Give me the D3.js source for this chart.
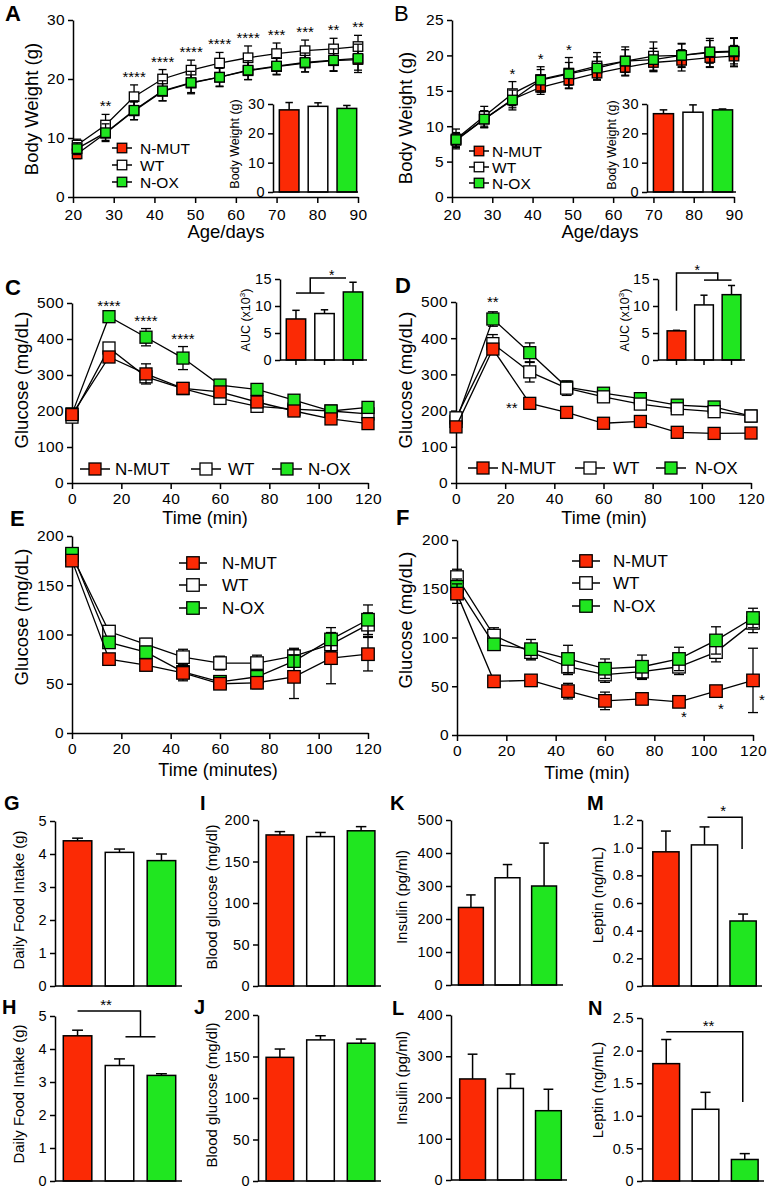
<!DOCTYPE html>
<html>
<head>
<meta charset="utf-8">
<script src="https://cdn.jsdelivr.net/npm/d3@7"></script>
<style>
  body { margin: 0; background: #fff; }
  svg text { font-family: "Liberation Sans", Arial, Helvetica, sans-serif; fill: #000; }
</style>
</head>
<body>
<svg id="fig" width="768" height="1189"></svg>
<script>
const groups = ['N-MUT', 'WT', 'N-OX'];
const fills = {'N-MUT': '#fb2a05', 'WT': '#ffffff', 'N-OX': '#20e620'};

// A, B: body weight curves
const ageDays = [21, 28, 35, 42, 49, 56, 63, 70, 77, 84, 90];
const ageTicks = [20, 30, 40, 50, 60, 70, 80, 90];
const aMut = [7.3, 10.8, 14.6, 17.9, 19.3, 20.3, 21.4, 22.1, 22.7, 23.1, 23.3];
const aWt = [8.8, 12.2, 17.0, 20.0, 21.5, 22.7, 23.6, 24.3, 24.8, 25.1, 25.5];
const aOx = [8.2, 10.9, 14.7, 18.0, 19.4, 20.3, 21.5, 22.2, 22.8, 23.2, 23.5];
const aMutErr = [0.8, 1.2, 1.5, 1.6, 1.6, 1.5, 1.5, 1.4, 1.5, 1.7, 1.8];
const aWtErr = [1.0, 1.8, 2.0, 1.6, 1.7, 1.8, 2.0, 1.8, 1.8, 1.8, 1.9];
const aOxErr = [1.0, 1.5, 1.6, 1.7, 1.9, 1.6, 1.6, 1.4, 1.6, 1.9, 2.4];
const aStars = ['', '**', '****', '****', '****', '****', '****', '***', '***', '**', '**'];
const aBar = [28.0, 29.2, 28.5];
const aBarErr = [2.5, 1.2, 1.0];

const bMut = [8.0, 11.0, 13.8, 15.5, 16.5, 17.5, 18.3, 19.0, 19.3, 19.7, 19.9];
const bWt = [8.2, 11.4, 14.6, 16.6, 17.5, 18.5, 19.2, 19.9, 20.0, 20.4, 20.5];
const bOx = [8.1, 11.0, 13.7, 16.5, 17.4, 18.2, 19.2, 19.4, 20.0, 20.5, 20.6];
const bMutErr = [1.0, 1.2, 1.2, 1.0, 1.1, 1.0, 1.2, 1.3, 1.5, 1.4, 1.5];
const bWtErr = [1.4, 1.4, 1.7, 1.8, 2.2, 1.9, 2.0, 2.0, 1.7, 2.0, 2.0];
const bOxErr = [1.0, 1.2, 1.4, 1.5, 1.6, 1.6, 1.6, 1.6, 1.6, 1.6, 1.8];
const bStars = ['', '', '*', '*', '*', '', '', '', '', '', ''];
const bBar = [26.7, 27.2, 28.0];
const bBarErr = [1.3, 2.5, 0.3];

// C, D: glucose tolerance
const minutes = [0, 15, 30, 45, 60, 75, 90, 105, 120];
const minTicks = [0, 20, 40, 60, 80, 100, 120];
const cMut = [190, 350, 303, 263, 253, 225, 200, 178, 165];
const cWt = [183, 375, 295, 262, 235, 213, 205, 200, 192];
const cOx = [192, 462, 405, 347, 272, 260, 230, 200, 210];
const cMutErr = [12, 15, 28, 10, 12, 10, 8, 10, 10];
const cWtErr = [12, 12, 12, 10, 10, 8, 8, 8, 10];
const cOxErr = [10, 8, 24, 32, 12, 10, 8, 8, 8];
const cStars = ['', '****', '****', '****', '', '', '', '', ''];
const cAuc = [7.6, 8.6, 12.6];
const cAucErr = [1.6, 0.7, 1.8];

const dMut = [155, 370, 220, 195, 165, 170, 140, 137, 138];
const dWt = [180, 385, 307, 262, 238, 218, 205, 197, 185];
const dOx = [170, 453, 360, 265, 248, 233, 215, 210, 185];
const dMutErr = [10, 15, 8, 8, 8, 8, 8, 8, 8];
const dWtErr = [15, 25, 28, 20, 10, 10, 10, 10, 8];
const dOxErr = [12, 20, 27, 10, 8, 8, 8, 8, 8];
const dAuc = [5.4, 10.2, 12.1];
const dAucErr = [0.1, 1.8, 1.7];

// E, F: insulin tolerance
const eMut = [175, 75, 69, 61, 50, 51, 57, 76, 80];
const eWt = [180, 103, 90, 77, 71, 71, 78, 90, 110];
const eOx = [182, 92, 82, 62, 52, 57, 73, 95, 115];
const eMutErr = [5, 5, 5, 8, 5, 6, 22, 26, 17];
const eWtErr = [5, 6, 6, 8, 7, 8, 8, 10, 12];
const eOxErr = [5, 5, 6, 7, 6, 6, 12, 12, 15];

const fMut = [145, 55, 56, 45, 35, 37, 34, 45, 56];
const fWt = [162, 102, 85, 70, 62, 65, 70, 85, 115];
const fOx = [152, 93, 88, 78, 68, 70, 78, 97, 120];
const fMutErr = [10, 4, 4, 8, 9, 5, 4, 4, 33];
const fWtErr = [8, 8, 8, 8, 8, 8, 8, 10, 10];
const fOxErr = [8, 6, 10, 14, 10, 12, 12, 14, 10];

// G-N: bar panels
const gFood = [4.4, 4.05, 3.8], gErr = [0.08, 0.1, 0.2];
const hFood = [4.4, 3.5, 3.2], hErr = [0.17, 0.2, 0.05];
const iGlu = [182, 180, 187], iErr = [4, 5, 5];
const jGlu = [149, 170, 166], jErr = [10, 5, 5];
const kIns = [235, 325, 300], kErr = [38, 40, 130];
const lIns = [245, 222, 168], lErr = [60, 35, 52];
const mLep = [0.97, 1.02, 0.47], mErr = [0.15, 0.13, 0.05];
const nLep = [1.8, 1.1, 0.33], nErr = [0.37, 0.26, 0.09];

const svg = d3.select('#fig');

function styleAxis(a, fs) {
  a.attr('font-family', null);
  a.select('.domain').attr('stroke-width', 1.5);
  a.selectAll('.tick line').attr('stroke-width', 1.5);
  a.selectAll('.tick text').attr('font-size', fs).attr('letter-spacing', '0.4px');
}

function label(txt, x, y, fs, opts) {
  opts = opts || {};
  let t = svg.append('text').attr('x', x).attr('y', y).attr('font-size', fs)
    .attr('text-anchor', opts.anchor || 'start')
    .attr('font-weight', opts.bold ? 'bold' : 'normal')
    .text(txt);
  return t;
}

function vlabel(txt, x, y, fs) {
  return svg.append('text')
    .attr('transform', 'translate(' + x + ',' + y + ') rotate(-90)')
    .attr('text-anchor', 'middle').attr('font-size', fs).text(txt);
}

function linePanel(o) {
  const g = svg.append('g');
  const x = d3.scaleLinear().domain(o.xDomain).range(o.xRange);
  const y = d3.scaleLinear().domain(o.yDomain).range(o.yRange);
  g.append('g')
    .attr('transform', 'translate(0,' + o.yRange[0] + ')')
    .call(d3.axisBottom(x).tickValues(o.xTicks).tickSize(6).tickPadding(o.xPad).tickSizeOuter(0))
    .call(styleAxis, o.fs);
  g.append('g')
    .attr('transform', 'translate(' + o.xRange[0] + ',0)')
    .call(d3.axisLeft(y).tickValues(o.yTicks).tickSize(5).tickPadding(3).tickSizeOuter(0))
    .call(styleAxis, o.fs);

  const line = d3.line().x(d => x(d.t)).y(d => y(d.v));
  o.order.forEach(k => {
    const pts = o.xs.map((t, i) => ({t: t, v: o.series[k].v[i], e: o.series[k].e[i]}));
    const s = g.append('g');
    s.append('path').datum(pts).attr('d', line)
      .attr('fill', 'none').attr('stroke', '#000').attr('stroke-width', 1.3);
    const eb = s.selectAll('.eb').data(pts).join('g').attr('class', 'eb')
      .attr('stroke', '#000').attr('stroke-width', 1.3);
    eb.append('line')
      .attr('x1', d => x(d.t)).attr('x2', d => x(d.t))
      .attr('y1', d => y(d.v - d.e)).attr('y2', d => y(d.v + d.e));
    [-1, 1].forEach(sg => {
      eb.append('line')
        .attr('x1', d => x(d.t) - o.cap / 2).attr('x2', d => x(d.t) + o.cap / 2)
        .attr('y1', d => y(d.v + sg * d.e)).attr('y2', d => y(d.v + sg * d.e));
    });
    s.selectAll('rect').data(pts).join('rect')
      .attr('x', d => x(d.t) - o.ms / 2).attr('y', d => y(d.v) - o.ms / 2)
      .attr('width', o.ms).attr('height', o.ms)
      .attr('fill', fills[k]).attr('stroke', '#000').attr('stroke-width', 1.3);
  });
  return {g: g, x: x, y: y};
}

function legendItem(k, cx, cy, tx, ms, half, fs) {
  svg.append('line').attr('x1', cx - half).attr('x2', cx + half).attr('y1', cy).attr('y2', cy)
    .attr('stroke', '#000').attr('stroke-width', 1.5);
  svg.append('rect').attr('x', cx - ms / 2).attr('y', cy - ms / 2).attr('width', ms).attr('height', ms)
    .attr('fill', fills[k]).attr('stroke', '#000').attr('stroke-width', 1.3);
  label(k, tx, cy + fs * 0.36, fs);
}

function barPanel(o) {
  const g = svg.append('g');
  const x = d3.scaleBand().domain(groups).range([o.x0, o.x1]).paddingInner(0.32).paddingOuter(0.15);
  const y = d3.scaleLinear().domain(o.yDomain).range(o.yRange);
  const cx = k => x(k) + x.bandwidth() / 2;
  const rows = groups.map((k, i) => ({k: k, v: o.vals[i], e: o.errs[i]}));
  const capW = x.bandwidth() * 0.38;

  const eb = g.append('g').attr('stroke', '#000').attr('stroke-width', 1.5)
    .selectAll('g').data(rows).join('g');
  eb.append('line').attr('x1', d => cx(d.k)).attr('x2', d => cx(d.k))
    .attr('y1', d => y(d.v)).attr('y2', d => y(d.v + d.e));
  eb.append('line').attr('x1', d => cx(d.k) - capW / 2).attr('x2', d => cx(d.k) + capW / 2)
    .attr('y1', d => y(d.v + d.e)).attr('y2', d => y(d.v + d.e));

  g.append('g').selectAll('rect').data(rows).join('rect')
    .attr('x', d => x(d.k)).attr('y', d => y(d.v))
    .attr('width', x.bandwidth()).attr('height', d => y(0) - y(d.v))
    .attr('fill', d => fills[d.k]).attr('stroke', '#000').attr('stroke-width', 1.5);

  g.append('line').attr('x1', o.axisX).attr('x2', o.axisEnd).attr('y1', y(0)).attr('y2', y(0))
    .attr('stroke', '#000').attr('stroke-width', 1.5);
  if (o.xTicks) {
    g.append('g').selectAll('line').data(groups).join('line')
      .attr('x1', cx).attr('x2', cx).attr('y1', y(0)).attr('y2', y(0) + 5)
      .attr('stroke', '#000').attr('stroke-width', 1.5);
  }
  g.append('g')
    .attr('transform', 'translate(' + o.axisX + ',0)')
    .call(d3.axisLeft(y).tickValues(o.yTicks).tickSize(5).tickPadding(3).tickSizeOuter(0)
      .tickFormat(o.fmt || (d => d)))
    .call(styleAxis, o.fs);
  return {g: g, x: x, y: y, cx: cx};
}

function bracket(g, pts) {
  g.append('path').attr('d', d3.line()(pts))
    .attr('fill', 'none').attr('stroke', '#000').attr('stroke-width', 1.5);
}

const series = (m, w, x, me, we, xe) => ({
  'N-MUT': {v: m, e: me}, 'WT': {v: w, e: we}, 'N-OX': {v: x, e: xe}
});

// ---------- A ----------
let A = linePanel({
  xDomain: [20, 90], xRange: [73, 358], xTicks: ageTicks, xPad: 6,
  yDomain: [0, 30], yRange: [197, 20], yTicks: [0, 10, 20, 30],
  xs: ageDays, series: series(aMut, aWt, aOx, aMutErr, aWtErr, aOxErr),
  order: ['N-MUT', 'WT', 'N-OX'], ms: 9.5, cap: 8, fs: 15.5
});
ageDays.forEach((d, i) => {
  if (aStars[i]) label(aStars[i], A.x(d), A.y(aWt[i] + aWtErr[i]) - 3, 15, {anchor: 'middle'});
});
legendItem('N-MUT', 122, 148, 140, 9.5, 10, 15.5);
legendItem('WT', 122, 165, 140, 9.5, 10, 15.5);
legendItem('N-OX', 122, 182, 140, 9.5, 10, 15.5);
barPanel({axisX: 273, axisEnd: 358, x0: 275, x1: 361, yDomain: [0, 30], yRange: [192, 104],
  yTicks: [0, 10, 20, 30], vals: aBar, errs: aBarErr, fs: 14.5});
vlabel('Body Weight (g)', 239, 144, 12.5);
vlabel('Body Weight (g)', 38, 109, 18.5);
label('Age/days', 226, 238, 18.5, {anchor: 'middle'});
label('A', 5, 21, 22, {bold: true});

// ---------- B ----------
let B = linePanel({
  xDomain: [20, 90], xRange: [452, 734], xTicks: ageTicks, xPad: 6,
  yDomain: [0, 25], yRange: [197, 20], yTicks: [0, 5, 10, 15, 20, 25],
  xs: ageDays, series: series(bMut, bWt, bOx, bMutErr, bWtErr, bOxErr),
  order: ['N-MUT', 'WT', 'N-OX'], ms: 9.5, cap: 8, fs: 15.5
});
ageDays.forEach((d, i) => {
  if (bStars[i]) label(bStars[i], B.x(d), B.y(bWt[i] + bWtErr[i]) - 3, 15, {anchor: 'middle'});
});
legendItem('N-MUT', 479, 151, 492, 9.5, 10, 15.5);
legendItem('WT', 479, 167, 492, 9.5, 10, 15.5);
legendItem('N-OX', 479, 183, 492, 9.5, 10, 15.5);
barPanel({axisX: 647, axisEnd: 736, x0: 649, x1: 737, yDomain: [0, 30], yRange: [192, 104],
  yTicks: [0, 10, 20, 30], vals: bBar, errs: bBarErr, fs: 14.5});
vlabel('Body Weight (g)', 616, 145, 12.5);
vlabel('Body Weight (g)', 412, 118, 18.5);
label('Age/days', 600, 238, 18.5, {anchor: 'middle'});
label('B', 394, 21, 22);

// ---------- C ----------
let C = linePanel({
  xDomain: [0, 120], xRange: [72, 368], xTicks: minTicks, xPad: 4,
  yDomain: [0, 500], yRange: [483, 303], yTicks: [0, 100, 200, 300, 400, 500],
  xs: minutes, series: series(cMut, cWt, cOx, cMutErr, cWtErr, cOxErr),
  order: ['WT', 'N-OX', 'N-MUT'], ms: 12, cap: 10, fs: 15.5
});
minutes.forEach((t, i) => {
  if (cStars[i]) label(cStars[i], C.x(t), C.y(cOx[i] + cOxErr[i]) - 3, 15, {anchor: 'middle'});
});
legendItem('N-MUT', 95, 469, 115, 12, 15, 17);
legendItem('WT', 206, 469, 228, 12, 15, 17);
legendItem('N-OX', 287, 469, 308, 12, 15, 17);
let Ci = barPanel({axisX: 280, axisEnd: 367, x0: 282, x1: 367, yDomain: [0, 15], yRange: [360, 279],
  yTicks: [0, 5, 10, 15], vals: cAuc, errs: cAucErr, fs: 14.5, xTicks: true});
{
  const mid = (Ci.cx('N-MUT') + Ci.cx('WT')) / 2;
  bracket(Ci.g, [[Ci.cx('N-MUT'), Ci.y(12.4)], [Ci.cx('WT'), Ci.y(12.4)]]);
  bracket(Ci.g, [[mid, Ci.y(12.4)], [mid, Ci.y(15.2)], [Ci.cx('N-OX') - 7, Ci.y(15.2)]]);
  label('*', (mid + Ci.cx('N-OX')) / 2, Ci.y(15.2) + 2, 14, {anchor: 'middle'});
}
svg.append('text').attr('transform', 'translate(250,320) rotate(-90)').attr('text-anchor', 'middle')
  .attr('font-size', 12.5).html('AUC (x10<tspan dy="-5" font-size="8">3</tspan><tspan dy="5">)</tspan>');
vlabel('Glucose (mg/dL)', 28, 380, 18.5);
label('Time (min)', 205, 524, 18, {anchor: 'middle'});
label('C', 5, 295, 22, {bold: true});

// ---------- D ----------
let D = linePanel({
  xDomain: [0, 120], xRange: [456, 751], xTicks: minTicks, xPad: 4,
  yDomain: [0, 500], yRange: [483, 302], yTicks: [0, 100, 200, 300, 400, 500],
  xs: minutes, series: series(dMut, dWt, dOx, dMutErr, dWtErr, dOxErr),
  order: ['N-OX', 'WT', 'N-MUT'], ms: 12, cap: 10, fs: 15.5
});
label('**', D.x(15), D.y(dOx[1] + dOxErr[1]) - 5, 15, {anchor: 'middle'});
label('**', D.x(30) - 18, D.y(dMut[2]) + 10, 15, {anchor: 'middle'});
legendItem('N-MUT', 483, 468, 501, 12, 15, 17);
legendItem('WT', 590, 468, 613, 12, 15, 17);
legendItem('N-OX', 671, 468, 695, 12, 15, 17);
let Di = barPanel({axisX: 658, axisEnd: 745, x0: 663, x1: 745, yDomain: [0, 15], yRange: [360, 279],
  yTicks: [0, 5, 10, 15], vals: dAuc, errs: dAucErr, fs: 14.5, xTicks: true});
{
  const mid = (Di.cx('WT') + Di.cx('N-OX')) / 2;
  bracket(Di.g, [[Di.cx('N-MUT'), Di.y(9.1)], [Di.cx('N-MUT'), Di.y(16.1)], [mid, Di.y(16.1)], [mid, Di.y(14.8)]]);
  bracket(Di.g, [[Di.cx('WT'), Di.y(14.8)], [Di.cx('N-OX'), Di.y(14.8)]]);
  label('*', (Di.cx('N-MUT') + mid) / 2, Di.y(16.1) + 2, 14, {anchor: 'middle'});
}
svg.append('text').attr('transform', 'translate(629,320) rotate(-90)').attr('text-anchor', 'middle')
  .attr('font-size', 12.5).html('AUC (x10<tspan dy="-5" font-size="8">3</tspan><tspan dy="5">)</tspan>');
vlabel('Glucose (mg/dL)', 412, 380, 18.5);
label('Time (min)', 604, 524, 18, {anchor: 'middle'});
label('D', 395, 293, 22, {bold: true});

// ---------- E ----------
let E = linePanel({
  xDomain: [0, 120], xRange: [72, 368], xTicks: minTicks, xPad: 4,
  yDomain: [0, 200], yRange: [733, 536], yTicks: [0, 50, 100, 150, 200],
  xs: minutes, series: series(eMut, eWt, eOx, eMutErr, eWtErr, eOxErr),
  order: ['WT', 'N-OX', 'N-MUT'], ms: 12.5, cap: 10, fs: 15.5
});
legendItem('N-MUT', 193, 563, 222, 12.5, 14, 17);
legendItem('WT', 193, 585, 222, 12.5, 14, 17);
legendItem('N-OX', 193, 608, 222, 12.5, 14, 17);
vlabel('Glucose (mg/dL)', 28, 617, 18.5);
label('Time (minutes)', 218, 776, 18, {anchor: 'middle'});
label('E', 10, 526, 22, {bold: true});

// ---------- F ----------
let F = linePanel({
  xDomain: [0, 120], xRange: [457, 753], xTicks: minTicks, xPad: 4,
  yDomain: [0, 200], yRange: [735, 540], yTicks: [0, 50, 100, 150, 200],
  xs: minutes, series: series(fMut, fWt, fOx, fMutErr, fWtErr, fOxErr),
  order: ['WT', 'N-OX', 'N-MUT'], ms: 12.5, cap: 10, fs: 15.5
});
label('*', F.x(90) + 5, F.y(fMut[6]) + 20, 15, {anchor: 'middle'});
label('*', F.x(105) + 5, F.y(fMut[7]) + 23, 15, {anchor: 'middle'});
label('*', F.x(120) + 9, F.y(fMut[8]) + 25, 15, {anchor: 'middle'});
legendItem('N-MUT', 586, 561, 613, 12.5, 14, 17);
legendItem('WT', 586, 583, 613, 12.5, 14, 17);
legendItem('N-OX', 586, 606, 613, 12.5, 14, 17);
vlabel('Glucose (mg/dL)', 412, 620, 18.5);
label('Time (min)', 587, 779, 18, {anchor: 'middle'});
label('F', 396, 525, 22, {bold: true});

// ---------- G-N ----------
const lepFmt = d => d === 0 ? '0' : d3.format('.1f')(d);

barPanel({axisX: 55, axisEnd: 182, x0: 57, x1: 182, yDomain: [0, 5], yRange: [986, 821],
  yTicks: [0, 1, 2, 3, 4, 5], vals: gFood, errs: gErr, fs: 14.5});
vlabel('Daily Food Intake (g)', 24, 900, 15);
label('G', 4, 810, 20, {bold: true});

let H = barPanel({axisX: 55, axisEnd: 182, x0: 57, x1: 182, yDomain: [0, 5], yRange: [1181, 1016],
  yTicks: [0, 1, 2, 3, 4, 5], vals: hFood, errs: hErr, fs: 14.5});
{
  const mid = (H.cx('WT') + H.cx('N-OX')) / 2;
  bracket(H.g, [[H.cx('N-MUT'), H.y(5.15)], [mid, H.y(5.15)], [mid, H.y(4.37)]]);
  bracket(H.g, [[mid - 15, H.y(4.37)], [mid + 15, H.y(4.37)]]);
  label('**', (H.cx('N-MUT') + mid) / 2 - 3, H.y(5.15) - 1, 15, {anchor: 'middle'});
}
vlabel('Daily Food Intake (g)', 24, 1094, 15);
label('H', 2, 1014, 20, {bold: true});

barPanel({axisX: 258, axisEnd: 381, x0: 260, x1: 381, yDomain: [0, 200], yRange: [986, 820],
  yTicks: [0, 50, 100, 150, 200], vals: iGlu, errs: iErr, fs: 14.5});
vlabel('Blood glucose (mg/dl)', 217, 897, 15);
label('I', 200, 810, 20, {bold: true});

barPanel({axisX: 258, axisEnd: 381, x0: 260, x1: 381, yDomain: [0, 200], yRange: [1181, 1015],
  yTicks: [0, 50, 100, 150, 200], vals: jGlu, errs: jErr, fs: 14.5});
vlabel('Blood glucose (mg/dl)', 217, 1095, 15);
label('J', 194, 1014, 20, {bold: true});

barPanel({axisX: 451, axisEnd: 563, x0: 453, x1: 562, yDomain: [0, 500], yRange: [985, 820],
  yTicks: [0, 100, 200, 300, 400, 500], vals: kIns, errs: kErr, fs: 14.5});
vlabel('Insulin (pg/ml)', 407, 897, 15);
label('K', 390, 810, 20, {bold: true});

barPanel({axisX: 451, axisEnd: 567, x0: 454, x1: 567, yDomain: [0, 400], yRange: [1180, 1015],
  yTicks: [0, 100, 200, 300, 400], vals: lIns, errs: lErr, fs: 14.5});
vlabel('Insulin (pg/ml)', 407, 1078, 15);
label('L', 392, 1015, 20, {bold: true});

let M = barPanel({axisX: 642, axisEnd: 762, x0: 647, x1: 762, yDomain: [0, 1.2], yRange: [986, 820],
  yTicks: [0, 0.2, 0.4, 0.6, 0.8, 1.0, 1.2], fmt: lepFmt, vals: mLep, errs: mErr, fs: 14.5});
{
  const xr = M.cx('N-OX') - 1;
  bracket(M.g, [[M.cx('WT') + 3, M.y(1.22)], [xr, M.y(1.22)], [xr, M.y(0.99)]]);
  label('*', (M.cx('WT') + xr) / 2, M.y(1.22) - 1, 15, {anchor: 'middle'});
}
vlabel('Leptin (ng/mL)', 603, 895, 15);
label('M', 587, 810, 20, {bold: true});

let N = barPanel({axisX: 642, axisEnd: 764, x0: 647, x1: 764, yDomain: [0, 2.5], yRange: [1181, 1018],
  yTicks: [0, 0.5, 1.0, 1.5, 2.0, 2.5], fmt: lepFmt, vals: nLep, errs: nErr, fs: 14.5});
{
  const xr = N.cx('N-OX') - 2;
  bracket(N.g, [[N.cx('N-MUT'), N.y(2.29)], [xr, N.y(2.29)], [xr, N.y(1.21)]]);
  label('**', (N.cx('N-MUT') + xr) / 2 + 4, N.y(2.29) - 1, 15, {anchor: 'middle'});
}
vlabel('Leptin (ng/mL)', 603, 1090, 15);
label('N', 588, 1015, 20, {bold: true});
</script>
</body>
</html>
